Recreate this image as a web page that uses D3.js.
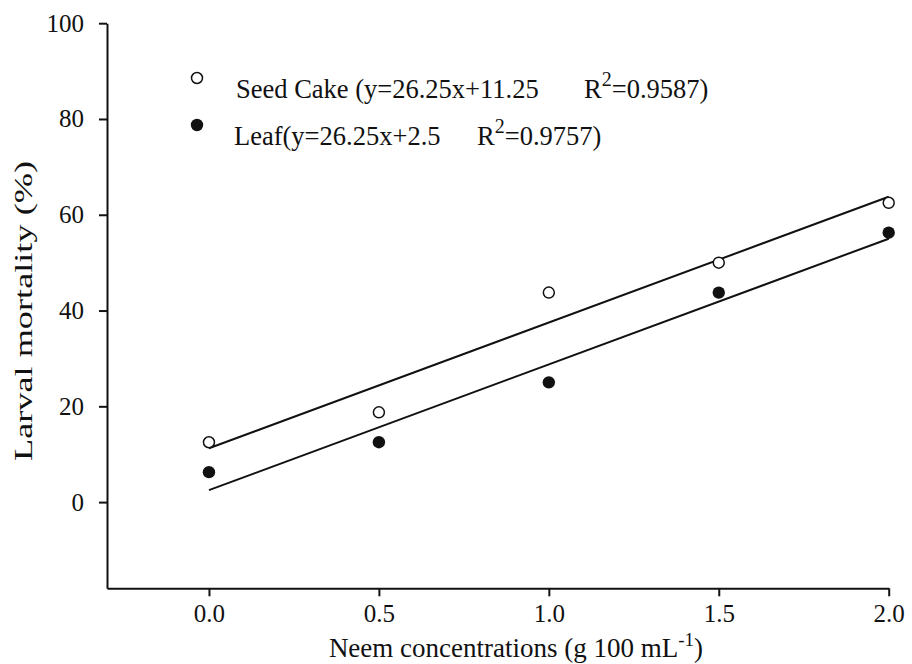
<!DOCTYPE html>
<html>
<head>
<meta charset="utf-8">
<script src="https://cdn.jsdelivr.net/npm/d3@7"></script>
<style>
  body { margin: 0; background: #fff; }
</style>
</head>
<body>
<div id="chart"></div>
<script>
// data
const concentrations = [0, 0.5, 1.0, 1.5, 2.0]
const seedCake = [12.5, 18.75, 43.75, 50, 62.5]
const leaf = [6.25, 12.5, 25, 43.75, 56.25]
const seedFit = [26.25, 11.25] // slope, intercept
const leafFit = [26.25, 2.5]
const xTicks = [0, 0.5, 1.0, 1.5, 2.0]
const yTicks = [0, 20, 40, 60, 80, 100]
const seedLabel = ['Seed Cake (y=26.25x+11.25', 'R', '2', '=0.9587)']
const leafLabel = ['Leaf(y=26.25x+2.5', 'R', '2', '=0.9757)']

const width = 912
const height = 664
const serif = '"Liberation Serif", Tinos, "Times New Roman", "DejaVu Serif", serif'

const svg = d3.select('#chart')
  .append('svg')
  .attr('width', width)
  .attr('height', height)
  .attr('font-family', serif)

const x = d3.scaleLinear()
  .domain([-0.3, 2.0])
  .range([107, 888.7])
const y = d3.scaleLinear()
  .domain([-18, 100])
  .range([588.3, 23.2])

// axes
svg.append('g')
  .attr('transform', `translate(0,${y(-18)})`)
  .call(d3.axisBottom(x).tickValues(xTicks).tickFormat(d3.format('.1f'))
    .tickSize(8).tickSizeOuter(0).tickPadding(8))
svg.append('g')
  .attr('transform', `translate(${x(-0.3)},0)`)
  .call(d3.axisLeft(y).tickValues(yTicks)
    .tickSize(8).tickSizeOuter(0).tickPadding(15))

svg.selectAll('.domain, .tick line')
  .attr('stroke', '#111')
  .attr('stroke-width', 2)
svg.selectAll('.tick text')
  .style('font-family', serif)
  .style('font-size', '25px')
  .attr('fill', '#111')

// fitted lines
const fitLine = d3.line()
  .x(d => x(d[0]))
  .y(d => y(d[1]))
const fits = [seedFit, leafFit]
svg.append('g')
  .selectAll('path')
  .data(fits)
  .enter()
  .append('path')
  .attr('d', f => fitLine([0, 2].map(c => [c, f[0] * c + f[1]])))
  .attr('fill', 'none')
  .attr('stroke', '#111')
  .attr('stroke-width', 2)

// points
svg.append('g')
  .selectAll('circle')
  .data(concentrations.map((c, i) => [c, seedCake[i]]))
  .enter()
  .append('circle')
  .attr('cx', d => x(d[0]))
  .attr('cy', d => y(d[1]))
  .attr('r', 5.5)
  .attr('fill', '#fff')
  .attr('stroke', '#111')
  .attr('stroke-width', 1.5)
svg.append('g')
  .selectAll('circle')
  .data(concentrations.map((c, i) => [c, leaf[i]]))
  .enter()
  .append('circle')
  .attr('cx', d => x(d[0]))
  .attr('cy', d => y(d[1]))
  .attr('r', 6.2)
  .attr('fill', '#111')

// legend
const legend = svg.append('g')
legend.append('circle')
  .attr('cx', 197).attr('cy', 78).attr('r', 5.5)
  .attr('fill', '#fff').attr('stroke', '#111').attr('stroke-width', 1.5)
legend.append('circle')
  .attr('cx', 197).attr('cy', 125).attr('r', 6.2)
  .attr('fill', '#111')

function legendText (parts, tx, ty, rx) {
  const t = legend.append('text')
    .attr('x', tx)
    .attr('y', ty)
    .attr('fill', '#111')
    .style('font-family', serif)
    .style('font-size', '26.5px')
  t.append('tspan').text(parts[0])
  t.append('tspan').attr('x', rx).text(parts[1])
  t.append('tspan').attr('dy', -12).style('font-size', '20px').text(parts[2])
  t.append('tspan').attr('dy', 12).text(parts[3])
}
legendText(seedLabel, 236, 98, 584)
legendText(leafLabel, 234, 145, 477)

// axis titles
const xt = svg.append('text')
  .attr('x', 516)
  .attr('y', 657)
  .attr('text-anchor', 'middle')
  .attr('fill', '#111')
  .style('font-family', serif)
  .style('font-size', '27px')
xt.append('tspan').text('Neem concentrations (g 100 mL')
xt.append('tspan').attr('dy', -11).style('font-size', '19px').text('-1')
xt.append('tspan').attr('dy', 11).text(')')

svg.append('text')
  .attr('transform', 'translate(32,311) rotate(-90)')
  .attr('text-anchor', 'middle')
  .attr('fill', '#111')
  .attr('textLength', 300)
  .attr('lengthAdjust', 'spacingAndGlyphs')
  .style('font-family', serif)
  .style('font-size', '25px')
  .text('Larval mortality (%)')
</script>
</body>
</html>
